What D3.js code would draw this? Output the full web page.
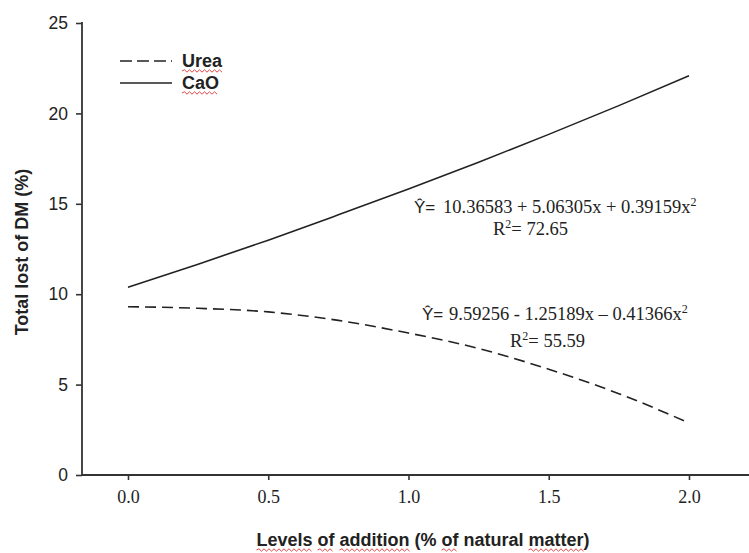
<!DOCTYPE html>
<html>
<head>
<meta charset="utf-8">
<script src="https://cdn.jsdelivr.net/npm/d3@7"></script>
<style>
  body { margin: 0; background: #fff; }
  svg { display: block; }
</style>
</head>
<body>
<svg id="chart" width="749" height="553"></svg>
<script>
// levels of addition (% of natural matter)
const levels = [0, 0.25, 0.5, 0.75, 1.0, 1.25, 1.5, 1.75, 2.0];
// total lost of DM (%)
const urea = [9.31, 9.22, 9.02, 8.55, 7.85, 7.0, 5.85, 4.5, 2.88];
const cao = [10.38, 11.66, 12.99, 14.39, 15.82, 17.3, 18.84, 20.43, 22.08];
const xTicks = [0, 0.5, 1.0, 1.5, 2.0];
const yTicks = [0, 5, 10, 15, 20, 25];

const svg = d3.select("#chart");
const axisColor = "#333";

const x = d3.scaleLinear().domain([-0.164, 2.214]).range([82, 749]);
const y = d3.scaleLinear().domain([0, 25]).range([475, 23]);

// y axis
const gy = svg.append("g").attr("transform", "translate(82,0)")
  .call(d3.axisLeft(y).tickValues(yTicks).tickSize(6).tickPadding(8));
gy.select(".domain").remove();
gy.selectAll(".tick line").attr("stroke", axisColor).attr("stroke-width", 1.6);
gy.selectAll(".tick text")
  .attr("font-family", "Liberation Sans, Arial, sans-serif")
  .attr("font-size", 17.5).attr("fill", "#222");
svg.append("line")
  .attr("x1", 82).attr("x2", 82).attr("y1", y(25) - 1).attr("y2", y(0))
  .attr("stroke", axisColor).attr("stroke-width", 1.8);

// x axis
const gx = svg.append("g").attr("transform", "translate(0,475)")
  .call(d3.axisBottom(x).tickValues(xTicks).tickFormat(d3.format(".1f")).tickSize(5).tickPadding(10));
gx.select(".domain").remove();
gx.selectAll(".tick line").attr("stroke", axisColor).attr("stroke-width", 1.6);
gx.selectAll(".tick text")
  .attr("font-family", "Liberation Serif, Times New Roman, serif")
  .attr("font-size", 18).attr("fill", "#222");
svg.append("line")
  .attr("x1", 82).attr("x2", 749).attr("y1", 475).attr("y2", 475)
  .attr("stroke", axisColor).attr("stroke-width", 1.8);

// curves
const line = d3.line()
  .x((d, i) => x(levels[i]))
  .y(d => y(d))
  .curve(d3.curveMonotoneX);

svg.append("path").datum(cao)
  .attr("d", line).attr("fill", "none")
  .attr("stroke", "#222").attr("stroke-width", 1.6);

svg.append("path").datum(urea)
  .attr("d", line).attr("fill", "none")
  .attr("stroke", "#222").attr("stroke-width", 1.6)
  .attr("stroke-dasharray", "11,6");

// wavy red spell-check underline
function wavy(x0, x1, yy) {
  let d = `M${x0},${yy}`;
  let up = true;
  for (let xx = x0 + 2.5; xx <= x1; xx += 2.5) {
    d += `L${xx},${yy + (up ? -1.2 : 1.2)}`;
    up = !up;
  }
  svg.append("path").attr("d", d).attr("fill", "none")
    .attr("stroke", "#e03030").attr("stroke-width", 0.9);
}

// legend
const legend = [
  { name: "Urea", dash: "12,5", yy: 61 },
  { name: "CaO", dash: null, yy: 83 }
];
legend.forEach(l => {
  svg.append("line")
    .attr("x1", 120).attr("x2", 172).attr("y1", l.yy).attr("y2", l.yy)
    .attr("stroke", "#222").attr("stroke-width", 1.6)
    .attr("stroke-dasharray", l.dash);
  const t = svg.append("text")
    .attr("x", 182).attr("y", l.yy + 6)
    .attr("font-family", "Liberation Sans, Arial, sans-serif")
    .attr("font-weight", "bold").attr("font-size", 18).attr("fill", "#222")
    .text(l.name);
  const w = t.node().getComputedTextLength();
  wavy(182, 182 + w, l.yy + 10);
});

// y title
svg.append("text")
  .attr("transform", "translate(28,252) rotate(-90)")
  .attr("text-anchor", "middle")
  .attr("font-family", "Liberation Sans, Arial, sans-serif")
  .attr("font-weight", "bold").attr("font-size", 18).attr("fill", "#222")
  .text("Total lost of DM (%)");

// x title
const title = "Levels of addition (% of natural matter)";
const xt = svg.append("text")
  .attr("x", 423).attr("y", 546)
  .attr("text-anchor", "middle")
  .attr("font-family", "Liberation Sans, Arial, sans-serif")
  .attr("font-weight", "bold").attr("font-size", 18).attr("fill", "#222")
  .text(title);
[[0, 6], [7, 2], [10, 8], [22, 2], [33, 6]].forEach(([i0, len]) => {
  const n = xt.node();
  const s = n.getStartPositionOfChar(i0).x;
  const e = n.getEndPositionOfChar(i0 + len - 1).x;
  wavy(s, e, 550);
});

// regression equations
const serif = "Liberation Serif, Times New Roman, serif";
function equation(hx, ex, by, body, r2x, r2, r2y) {
  svg.append("text").attr("x", hx).attr("y", by)
    .attr("font-family", "Liberation Sans, Arial, sans-serif")
    .attr("font-size", 17).attr("fill", "#222").text("\u0176=");
  const t = svg.append("text").attr("x", ex).attr("y", by)
    .attr("font-family", serif).attr("font-size", 18.5).attr("fill", "#222");
  t.append("tspan").text(body);
  t.append("tspan").attr("dy", -7).attr("font-size", 12).text("2");
  const r = svg.append("text").attr("x", r2x).attr("y", r2y)
    .attr("font-family", serif).attr("font-size", 18.5).attr("fill", "#222");
  r.append("tspan").text("R");
  r.append("tspan").attr("dy", -7).attr("font-size", 12).text("2");
  r.append("tspan").attr("dy", 7).text("= " + r2);
}
equation(414, 443, 213, "10.36583 + 5.06305x + 0.39159x", 493, "72.65", 235);
equation(422, 449, 320, "9.59256 - 1.25189x \u2013 0.41366x", 510, "55.59", 347);
</script>
</body>
</html>
